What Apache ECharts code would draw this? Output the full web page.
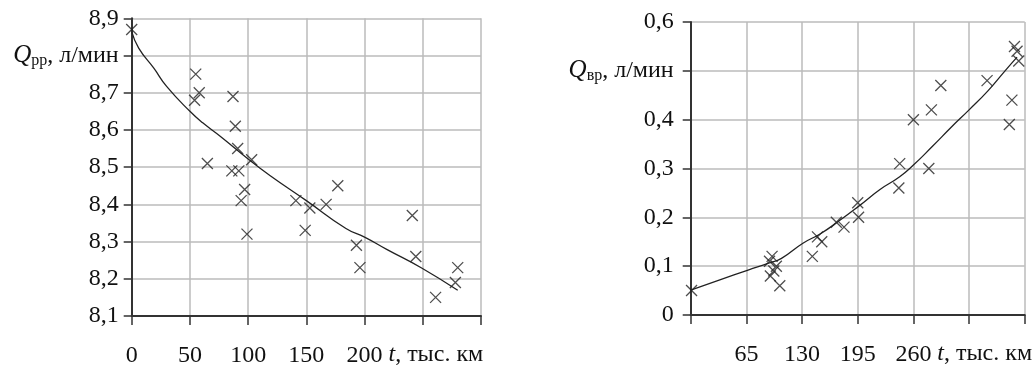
<!DOCTYPE html>
<html>
<head>
<meta charset="utf-8">
<script src="https://cdn.jsdelivr.net/npm/echarts@6/dist/echarts.min.js"></script>
<style>html,body{margin:0;padding:0;background:#fff;}#c{width:1033px;height:368px;}</style>
</head>
<body>
<div id="c"></div>
<script>
// Left chart: Q_рр vs t
const leftPoints = [
  [0, 8.87], [55, 8.75], [58, 8.70], [54, 8.68], [87, 8.69], [89, 8.61], [91, 8.55],
  [65, 8.51], [86, 8.49], [92, 8.49], [103, 8.52], [97, 8.44], [94, 8.41], [99, 8.32],
  [141, 8.41], [153, 8.39], [167, 8.40], [177, 8.45], [149, 8.33], [193, 8.29], [196, 8.23],
  [241, 8.37], [244, 8.26], [261, 8.15], [278, 8.19], [280, 8.23]
];
const leftTrend = [
  [0, 8.864], [6, 8.82], [19, 8.766], [30, 8.717], [50, 8.65], [61, 8.619], [76, 8.583],
  [100, 8.522], [119, 8.477], [150, 8.41], [184, 8.335], [200, 8.312], [219, 8.279],
  [249, 8.229], [280, 8.169]
];
// Right chart: Q_вр vs t
const rightPoints = [
  [1, 0.05], [95, 0.12], [92, 0.11], [100, 0.10], [93, 0.08], [97, 0.09], [104, 0.06],
  [142, 0.12], [148, 0.16], [153, 0.15], [170, 0.19], [179, 0.18], [195, 0.23], [196, 0.20],
  [244, 0.31], [243, 0.26], [260, 0.40], [278, 0.30], [281, 0.42], [292, 0.47], [346, 0.48],
  [372, 0.39], [375, 0.44], [378, 0.55], [381, 0.54], [383, 0.52]
];
const rightTrend = [
  [0, 0.051], [34, 0.072], [67, 0.092], [91, 0.106], [106, 0.116], [131, 0.147], [152, 0.167],
  [175, 0.195], [197, 0.224], [221, 0.257], [244, 0.283], [260, 0.307], [282, 0.345],
  [305, 0.386], [325, 0.42], [347, 0.459], [366, 0.498], [381, 0.528]
];
const leftXTicks = [0, 50, 100, 150, 200];
const rightXTicks = [65, 130, 195, 260];

const FONT = '"Liberation Serif", "DejaVu Serif", serif';
const FS = 24;
const cross = 'path://M0,0L10,10M10,0L0,10';
const comma = v => (Math.abs(v) < 1e-9 ? '0' : v.toFixed(1).replace('.', ','));
const axisLineStyle = { color: '#333', width: 2 };
const gridLine = { lineStyle: { color: '#bbb', width: 1.5 } };
const richQ = {
  q: { fontFamily: FONT, fontSize: 25, fontStyle: 'italic', color: '#111' },
  s: { fontFamily: FONT, fontSize: 16, color: '#111', padding: [10, 0, 0, 0] },
  n: { fontFamily: FONT, fontSize: FS, color: '#111' }
};
const nameStyle = {
  fontFamily: FONT, fontSize: FS, color: '#111', verticalAlign: 'top', padding: [27, 0, 0, 0],
  rich: {
    i: { fontFamily: FONT, fontSize: FS, fontStyle: 'italic', color: '#111' },
    n: { fontFamily: FONT, fontSize: FS, color: '#111' }
  }
};

const chart = echarts.init(document.getElementById('c'), null, { renderer: 'canvas' });
chart.setOption({
  animation: false,
  backgroundColor: '#fff',
  grid: [
    { left: 131.7, top: 18.3, width: 349.3, height: 299.4 },
    { left: 690.7, top: 22, width: 340.3, height: 293 }
  ],
  xAxis: [
    {
      gridIndex: 0, type: 'value', min: 0, max: 300, interval: 50,
      axisLine: { lineStyle: axisLineStyle },
      axisTick: { length: 9, lineStyle: { color: '#333', width: 1.5 } },
      splitLine: gridLine,
      axisLabel: {
        margin: 28, fontFamily: FONT, fontSize: FS, color: '#111',
        formatter: v => (leftXTicks.indexOf(v) >= 0 ? String(v) : '')
      },
      name: '{i|t}{n|, тыс. км}', nameLocation: 'end', nameGap: -96,
      nameTextStyle: nameStyle
    },
    {
      gridIndex: 1, type: 'value', min: 0, max: 390, interval: 65,
      axisLine: { lineStyle: axisLineStyle },
      axisTick: { length: 9, lineStyle: { color: '#333', width: 1.5 } },
      splitLine: gridLine,
      axisLabel: {
        margin: 28, fontFamily: FONT, fontSize: FS, color: '#111',
        formatter: v => (rightXTicks.indexOf(v) >= 0 ? String(v) : '')
      },
      name: '{i|t}{n|, тыс. км}', nameLocation: 'end', nameGap: -95,
      nameTextStyle: nameStyle
    }
  ],
  yAxis: [
    {
      gridIndex: 0, type: 'value', min: 8.1, max: 8.9, interval: 0.1,
      axisLine: { show: true, lineStyle: axisLineStyle },
      axisTick: { show: true, length: 8, lineStyle: { color: '#333', width: 1.5 } },
      splitLine: gridLine,
      axisLabel: {
        margin: 13, fontFamily: FONT, fontSize: FS, color: '#111', rich: richQ,
        formatter: v => (Math.abs(v - 8.8) < 1e-6 ? '{q|Q}{s|рр}{n|, л/мин}' : comma(v))
      }
    },
    {
      gridIndex: 1, type: 'value', min: 0, max: 0.6, interval: 0.1,
      axisLine: { show: true, lineStyle: axisLineStyle },
      axisTick: { show: true, length: 8, lineStyle: { color: '#333', width: 1.5 } },
      splitLine: gridLine,
      axisLabel: {
        margin: 17, fontFamily: FONT, fontSize: FS, color: '#111', rich: richQ,
        formatter: v => (Math.abs(v - 0.5) < 1e-6 ? '{q|Q}{s|вр}{n|, л/мин}' : comma(v))
      }
    }
  ],
  series: [
    {
      type: 'line', xAxisIndex: 0, yAxisIndex: 0, data: leftTrend, smooth: true,
      showSymbol: false, lineStyle: { color: '#222', width: 1.3 }, z: 2
    },
    {
      type: 'scatter', xAxisIndex: 0, yAxisIndex: 0, data: leftPoints, symbol: cross, symbolSize: 11,
      itemStyle: { color: 'none', borderColor: '#222', borderWidth: 1.3 }, z: 3
    },
    {
      type: 'line', xAxisIndex: 1, yAxisIndex: 1, data: rightTrend, smooth: true,
      showSymbol: false, lineStyle: { color: '#222', width: 1.3 }, z: 2
    },
    {
      type: 'scatter', xAxisIndex: 1, yAxisIndex: 1, data: rightPoints, symbol: cross, symbolSize: 11,
      itemStyle: { color: 'none', borderColor: '#222', borderWidth: 1.3 }, z: 3
    }
  ]
});
</script>
</body>
</html>
